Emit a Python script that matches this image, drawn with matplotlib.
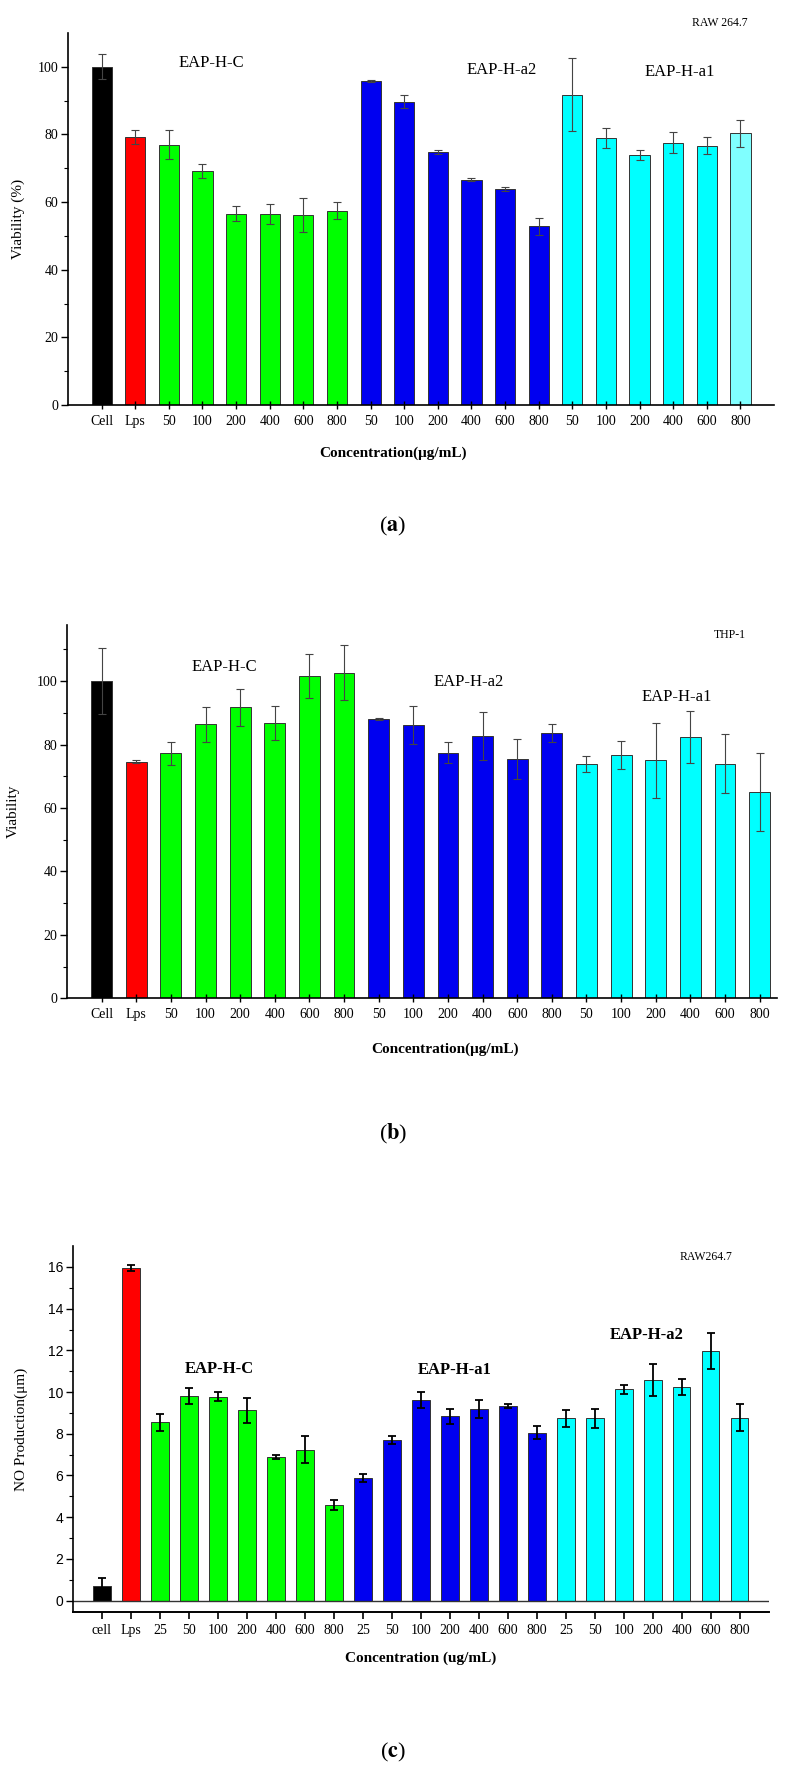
import matplotlib
matplotlib.use('Agg')
import matplotlib.pyplot as plt
import numpy as np

plt.rcParams['font.family'] = ['Liberation Serif', 'DejaVu Serif']
plt.rcParams['mathtext.fontset'] = 'stix'

# tick labels
conc_ab = ['50', '100', '200', '400', '600', '800']
conc_c = ['25', '50', '100', '200', '400', '600', '800']
labels_a = ['Cell', 'Lps'] + conc_ab * 3
labels_b = ['Cell', 'Lps'] + conc_ab * 3
labels_c = ['cell', 'Lps'] + conc_c * 3

# (a) RAW 264.7 viability
via_a = [100, 79.3, 77.0, 69.2, 56.6, 56.5, 56.1, 57.4,
         95.9, 89.7, 74.9, 66.6, 63.9, 52.8,
         91.7, 78.9, 74.0, 77.6, 76.7, 80.3]
err_a = [3.7, 2.0, 4.2, 2.0, 2.2, 3.0, 5.0, 2.5,
         0.3, 2.0, 0.6, 0.5, 0.5, 2.5,
         10.8, 3.0, 1.5, 3.0, 2.5, 3.9]

# (b) THP-1 viability
via_b = [100, 74.6, 77.3, 86.4, 91.7, 86.8, 101.5, 102.7,
         88.2, 86.1, 77.5, 82.7, 75.5, 83.6,
         74.0, 76.8, 75.0, 82.3, 74.0, 65.1]
err_b = [10.4, 0.5, 3.6, 5.6, 5.9, 5.4, 6.9, 8.8,
         0.3, 6.0, 3.3, 7.5, 6.4, 2.9,
         2.5, 4.4, 11.8, 8.2, 9.2, 12.2]

# (c) NO production
no_c = [0.72, 15.95, 8.55, 9.81, 9.78, 9.12, 6.89, 7.24, 4.58,
        5.88, 7.69, 9.62, 8.83, 9.19, 9.35, 8.05,
        8.74, 8.74, 10.13, 10.57, 10.24, 11.98, 8.78]
err_c = [0.38, 0.13, 0.4, 0.37, 0.22, 0.6, 0.1, 0.64, 0.25,
         0.2, 0.2, 0.37, 0.37, 0.43, 0.1, 0.3,
         0.42, 0.45, 0.2, 0.78, 0.37, 0.86, 0.67]

black, red, green, blue, cyan = '#000000', '#ff0000', '#00ff00', '#0000f0', '#00ffff'
cols_a = [black, red] + [green] * 6 + [blue] * 6 + [cyan] * 5 + ['#80ffff']
cols_b = [black, red] + [green] * 6 + [blue] * 6 + [cyan] * 6
cols_c = [black, red] + [green] * 7 + [blue] * 7 + [cyan] * 7

fig = plt.figure(figsize=(7.88, 17.67), dpi=100)


def viability_panel(rect, vals, errs, cols, labels, ylim, xmax, ylab):
    ax = fig.add_axes(rect)
    x = np.arange(len(vals))
    ax.bar(x, vals, width=0.6, color=cols, edgecolor='#333333', linewidth=0.7)
    ax.errorbar(x, vals, yerr=errs, fmt='none', ecolor='#444444',
                elinewidth=0.8, capsize=3, capthick=0.8)
    ax.set_xlim(-1, xmax)
    ax.set_ylim(*ylim)
    ax.set_xticks(x)
    ax.set_xticklabels(labels, fontsize=10)
    ax.set_yticks(np.arange(0, 101, 20))
    ax.set_yticks(np.arange(10, ylim[1], 10), minor=True)
    ax.tick_params(axis='x', direction='inout', length=6, width=1, pad=4)
    ax.tick_params(axis='y', direction='out', length=5, width=1, labelsize=10, pad=2)
    ax.tick_params(axis='y', which='minor', direction='out', length=3, width=0.8)
    ax.spines['top'].set_visible(False)
    ax.spines['right'].set_visible(False)
    ax.spines['left'].set_linewidth(1.2)
    ax.spines['bottom'].set_linewidth(1.2)
    ax.set_ylabel(ylab, fontsize=11)
    return ax


# panel a
ax1 = viability_panel([0.0863, 0.7708, 0.896, 0.2105], via_a, err_a, cols_a,
                      labels_a, (0, 110), 20, 'Viability (%)')
ax1.yaxis.set_label_coords(-0.061, 0.5)
ax1.set_xlabel('Concentration(μg/mL)', fontsize=11, fontweight='bold')
ax1.xaxis.set_label_coords(0.46, -0.112)
ax1.text(3.27, 101, 'EAP-H-C', fontsize=12, ha='center', va='center')
ax1.text(11.9, 99, 'EAP-H-a2', fontsize=12, ha='center', va='center')
ax1.text(17.2, 98.5, 'EAP-H-a1', fontsize=12, ha='center', va='center')
ax1.text(18.4, 113, 'RAW 264.7', fontsize=8.5, ha='center', va='center', clip_on=False)

# panel b
ax2 = viability_panel([0.085, 0.435, 0.901, 0.2113], via_b, err_b, cols_b,
                      labels_b, (0, 117.7), 19.5, 'Viability')
ax2.yaxis.set_label_coords(-0.066, 0.5)
ax2.set_xlabel('Concentration(μg/mL)', fontsize=11, fontweight='bold')
ax2.xaxis.set_label_coords(0.532, -0.117)
ax2.text(3.55, 104.6, 'EAP-H-C', fontsize=12, ha='center', va='center')
ax2.text(10.6, 99.6, 'EAP-H-a2', fontsize=12, ha='center', va='center')
ax2.text(16.6, 95.1, 'EAP-H-a1', fontsize=12, ha='center', va='center')
ax2.text(18.15, 114.6, 'THP-1', fontsize=8.5, ha='center', va='center')

# panel c
ax3 = fig.add_axes([0.0926, 0.0879, 0.883, 0.2069])
xc = np.arange(len(no_c))
ax3.bar(xc, no_c, width=0.6, color=cols_c, edgecolor='#333333', linewidth=0.7)
ax3.errorbar(xc, no_c, yerr=err_c, fmt='none', ecolor='black',
             elinewidth=1.3, capsize=3, capthick=1.3)
ax3.axhline(0, color='#333333', linewidth=1.0)
ax3.set_xlim(-1, 23)
ax3.set_ylim(-0.53, 17)
ax3.set_xticks(xc)
ax3.set_xticklabels(labels_c, fontsize=10)
ax3.set_yticks(np.arange(0, 17, 2))
ax3.set_yticks(np.arange(1, 17, 2), minor=True)
for lab in ax3.get_yticklabels():
    lab.set_family(['Liberation Sans', 'DejaVu Sans'])
ax3.tick_params(axis='x', direction='out', length=5, width=1.2, pad=4)
ax3.tick_params(axis='y', direction='out', length=5, width=1, labelsize=10, pad=2)
ax3.tick_params(axis='y', which='minor', direction='out', length=3, width=0.8)
ax3.spines['top'].set_visible(False)
ax3.spines['right'].set_visible(False)
ax3.spines['left'].set_linewidth(1.2)
ax3.spines['bottom'].set_linewidth(1.4)
ax3.set_ylabel('NO Production(μm)', fontsize=11)
ax3.yaxis.set_label_coords(-0.065, 0.5)
ax3.set_xlabel('Concentration (ug/mL)', fontsize=11, fontweight='bold')
ax3.xaxis.set_label_coords(0.5, -0.109)
ax3.text(4.06, 11.09, 'EAP-H-C', fontsize=12, fontweight='bold', ha='center', va='center')
ax3.text(12.16, 11.04, 'EAP-H-a1', fontsize=12, fontweight='bold', ha='center', va='center')
ax3.text(18.78, 12.76, 'EAP-H-a2', fontsize=12, fontweight='bold', ha='center', va='center')
ax3.text(20.85, 16.5, 'RAW264.7', fontsize=8.5, ha='center', va='center')

# panel letters
for letter, ypix in [('a', 526.7), ('b', 1134), ('c', 1752.7)]:
    fig.text(393 / 788, 1 - ypix / 1767, '(' + r'$\mathbf{' + letter + '}$' + ')',
             fontsize=16, ha='center', va='center')

fig.savefig('out.png', dpi=100)
